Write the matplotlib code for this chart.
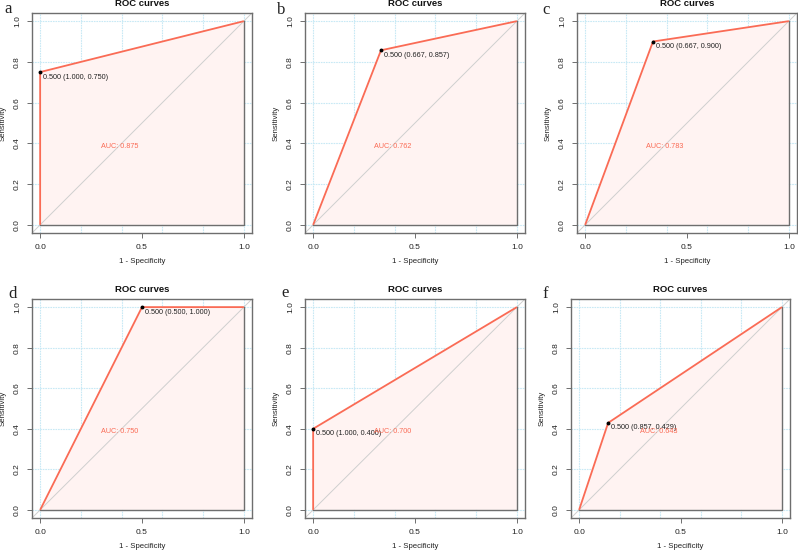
import matplotlib
matplotlib.use("Agg")
import matplotlib.pyplot as plt
from matplotlib.transforms import offset_copy

# ---- data ----
panel_letters = ["a", "b", "c", "d", "e", "f"]
threshold = [0.5, 0.5, 0.5, 0.5, 0.5, 0.5]
specificity = [1.000, 0.667, 0.667, 0.500, 1.000, 0.857]
sensitivity = [0.750, 0.857, 0.900, 1.000, 0.400, 0.429]
auc_values = [0.875, 0.762, 0.783, 0.750, 0.700, 0.643]
x_ticks = [0.0, 0.5, 1.0]
y_ticks = [0.0, 0.2, 0.4, 0.6, 0.8, 1.0]
grid_vals = [0.0, 0.2, 0.4, 0.6, 0.8, 1.0]

# ---- layout (pixel boxes: left, top, right, bottom) ----
W, H = 798, 553
boxes = [(32, 13, 252, 233), (305, 13, 525, 233), (577, 13, 797, 233),
         (32, 299, 252, 518), (305, 299, 525, 518), (571, 299, 790, 518)]
letter_pos = [(4, 13), (277, 14), (542, 14), (8, 298), (281, 297), (542, 298)]

plt.rcParams['font.family'] = ['Liberation Sans', 'DejaVu Sans']
fig = plt.figure(figsize=(W / 100, H / 100), dpi=100)

roc_col = '#FA6B55'
fill_col = '#FFF3F2'
box_col = '#6E6E6E'
grid_col = '#C8E9F5'

for i in range(6):
    L, T, R, B = boxes[i]
    ax = fig.add_axes([L / W, 1 - B / H, (R - L) / W, (B - T) / H])
    ax.set_xlim(-0.04, 1.04)
    ax.set_ylim(-0.04, 1.04)
    for g in grid_vals:
        ax.axvline(g, color=grid_col, lw=0.8, ls=(0, (1.5, 0.8)), zorder=0)
        ax.axhline(g, color=grid_col, lw=0.8, ls=(0, (1.5, 0.8)), zorder=0)
    fpr = 1 - specificity[i]
    xs = [0.0, fpr, 1.0]
    ys = [0.0, sensitivity[i], 1.0]
    ax.fill(xs + [1.0], ys + [0.0], color=fill_col, zorder=1, lw=0)
    ax.plot([-0.04, 1.04], [-0.04, 1.04], color='#CFCFCF', lw=0.7, zorder=2)
    ax.plot([0, 1, 1], [0, 0, 1], color=box_col, lw=1.0, zorder=3)
    ax.plot(xs, ys, color=roc_col, lw=1.3, zorder=4, solid_capstyle='butt')
    ax.plot([fpr], [sensitivity[i]], 'o', color='black', ms=1.8, zorder=5)
    tr = offset_copy(ax.transData, fig=fig, x=3, y=-5, units='dots')
    ax.text(fpr, sensitivity[i],
            f"{threshold[i]:.3f} ({specificity[i]:.3f}, {sensitivity[i]:.3f})",
            transform=tr, fontsize=5.2, color='#222222', ha='left', va='center', zorder=6)
    ax.text(0.3, 0.385, f"AUC: {auc_values[i]:.3f}", fontsize=5.2, color=roc_col,
            ha='left', va='center', zorder=6)
    ax.set_xticks(x_ticks)
    ax.set_xticklabels([f"{v:.1f}" for v in x_ticks])
    ax.set_yticks(y_ticks)
    ax.set_yticklabels([f"{v:.1f}" for v in y_ticks], rotation=90, va='center')
    ax.tick_params(length=3.6, width=0.7, pad=4.3, labelsize=6, color=box_col,
                   labelcolor='#222222')
    for s in ax.spines.values():
        s.set_color(box_col)
        s.set_linewidth(1.0)
    ax.set_xlabel("1 - Specificity", fontsize=5.6, labelpad=5, color='#222222')
    ax.set_ylabel("Sensitivity", fontsize=5.6, labelpad=5, color='#222222')
    fig.text((L + R) / 2 / W, 1 - (T - 9) / H, "ROC curves", fontsize=6.8,
             fontweight='bold', ha='center', va='center', color='#111111')
    lx, ly = letter_pos[i]
    fig.text(lx / W, 1 - ly / H, panel_letters[i], fontsize=12,
             family=['Liberation Serif', 'DejaVu Serif'], ha='left', va='baseline',
             color='#222222')

fig.savefig("out.png", dpi=100)
